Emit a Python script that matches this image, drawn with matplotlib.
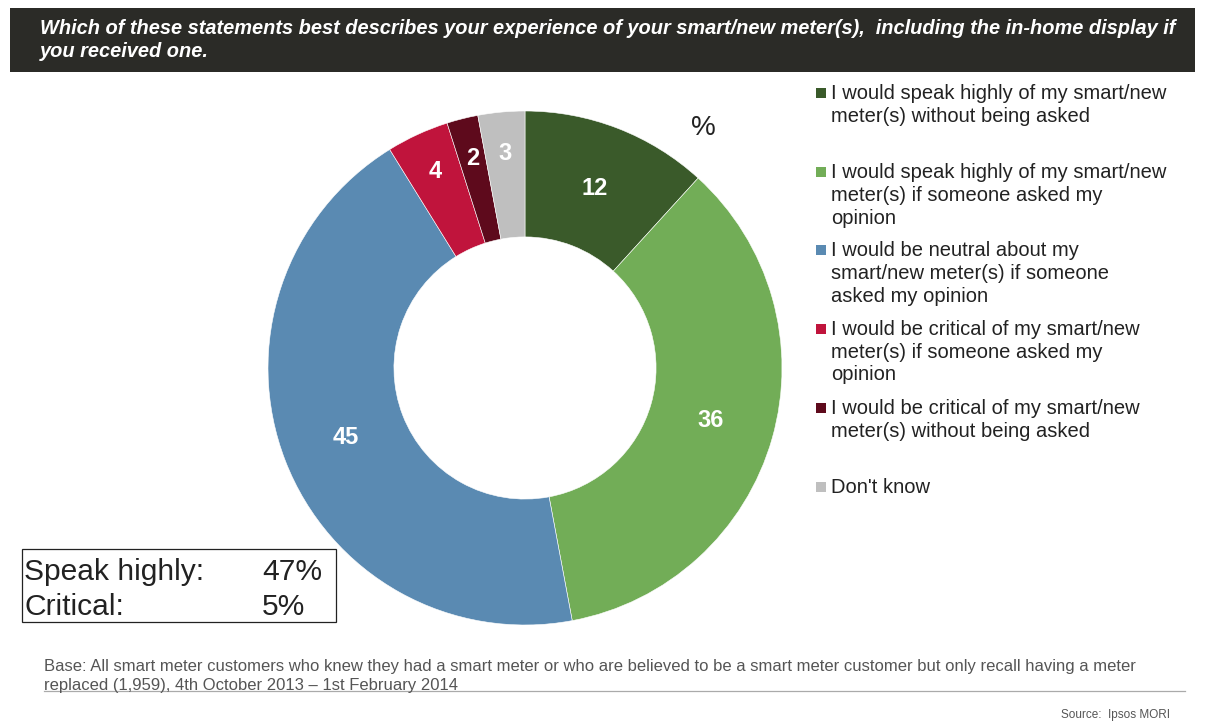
import matplotlib
matplotlib.use("Agg")
import matplotlib.pyplot as plt
import numpy as np
from matplotlib.patches import Rectangle
from matplotlib.lines import Line2D

# Survey answers, clockwise from 12 o'clock
labels = [
    "I would speak highly of my smart/new\nmeter(s) without being asked",
    "I would speak highly of my smart/new\nmeter(s) if someone asked my\nopinion",
    "I would be neutral about my\nsmart/new meter(s) if someone\nasked my opinion",
    "I would be critical of my smart/new\nmeter(s) if someone asked my\nopinion",
    "I would be critical of my smart/new\nmeter(s) without being asked",
    "Don't know",
]
values = [12, 36, 45, 4, 2, 3]
colors = ["#3a5a2a", "#72ad57", "#5a8ab2", "#c0143c", "#5e0a1c", "#bfbfbf"]

# legend rows (centre of the first text line, in pixels from the top)
legend_rows = [93, 172, 250, 329, 408, 487]

summary_labels = ["Speak highly:", "Critical:"]
summary_values = ["47%", "5%"]

title = ("Which of these statements best describes your experience of your smart/new meter(s),  "
         "including the in-home display if\nyou received one.")
base_note = ("Base: All smart meter customers who knew they had a smart meter or who are believed to be a "
             "smart meter customer but only recall having a meter\nreplaced (1,959), 4th October 2013 \u2013 "
             "1st February 2014")
source = "Source:  Ipsos MORI"

W, H = 1208, 727
plt.rcParams["font.family"] = ["Liberation Sans", "DejaVu Sans"]
fig = plt.figure(figsize=(W / 100, H / 100), dpi=100)


def fx(px):
    return px / W


def fy(py):
    return 1 - py / H


# dark title bar
fig.patches.append(Rectangle((fx(10), fy(72)), fx(1185), 64 / H, transform=fig.transFigure,
                             facecolor="#2b2b27", edgecolor="none"))
fig.text(fx(40), fy(40), title, color="white", fontsize=14.4, fontweight="bold", fontstyle="italic",
         va="center", ha="left", linespacing=1.3, transform=fig.transFigure)

# donut
cx, cy, r = 525, 368, 257
ax = fig.add_axes([fx(cx - r), fy(cy + r), 2 * r / W, 2 * r / H])
wedges, _ = ax.pie(values, colors=colors, startangle=90, counterclock=False, radius=1,
                   wedgeprops=dict(width=0.49, edgecolor="white", linewidth=0.4))
ax.set_xlim(-1, 1)
ax.set_ylim(-1, 1)
ax.set_aspect("equal")

for w, v in zip(wedges, values):
    ang = np.deg2rad((w.theta1 + w.theta2) / 2)
    dist = 0.75 if v >= 10 else 0.84
    ax.text(dist * np.cos(ang), dist * np.sin(ang), str(v), color="white", fontsize=17,
            fontweight="bold", ha="center", va="center")

fig.text(fx(703), fy(128), "%", fontsize=20, color="#222222", ha="center", va="center")

# legend entries
for lab, col, row in zip(labels, colors, legend_rows):
    fig.patches.append(Rectangle((fx(816), fy(row + 5)), fx(10), 10 / H, transform=fig.transFigure,
                                 facecolor=col, edgecolor="none"))
    fig.text(fx(831), fy(row - 9), lab, fontsize=14.5, color="#222222", ha="left", va="top",
             linespacing=1.25)

# summary box
fig.patches.append(Rectangle((fx(22), fy(622)), fx(314), 73 / H, transform=fig.transFigure,
                             facecolor="white", edgecolor="#222222", linewidth=0.9))
for i, (s, v) in enumerate(zip(summary_labels, summary_values)):
    yy = fy(572 + i * 35)
    fig.text(fx(24), yy, s, fontsize=21.6, color="#222222", ha="left", va="center")
    fig.text(fx(262), yy, v, fontsize=21.6, color="#222222", ha="left", va="center")

# footnotes
fig.text(fx(44), fy(676), base_note, fontsize=12, color="#555555", ha="left", va="center",
         linespacing=1.4)
fig.lines.append(Line2D([fx(44), fx(1185)], [fy(691), fy(691)], transform=fig.transFigure,
                        color="#aaaaaa", linewidth=0.9))
fig.text(fx(1170), fy(715), source, fontsize=8.5, color="#555555", ha="right", va="center")

fig.savefig("out.png", dpi=100)
